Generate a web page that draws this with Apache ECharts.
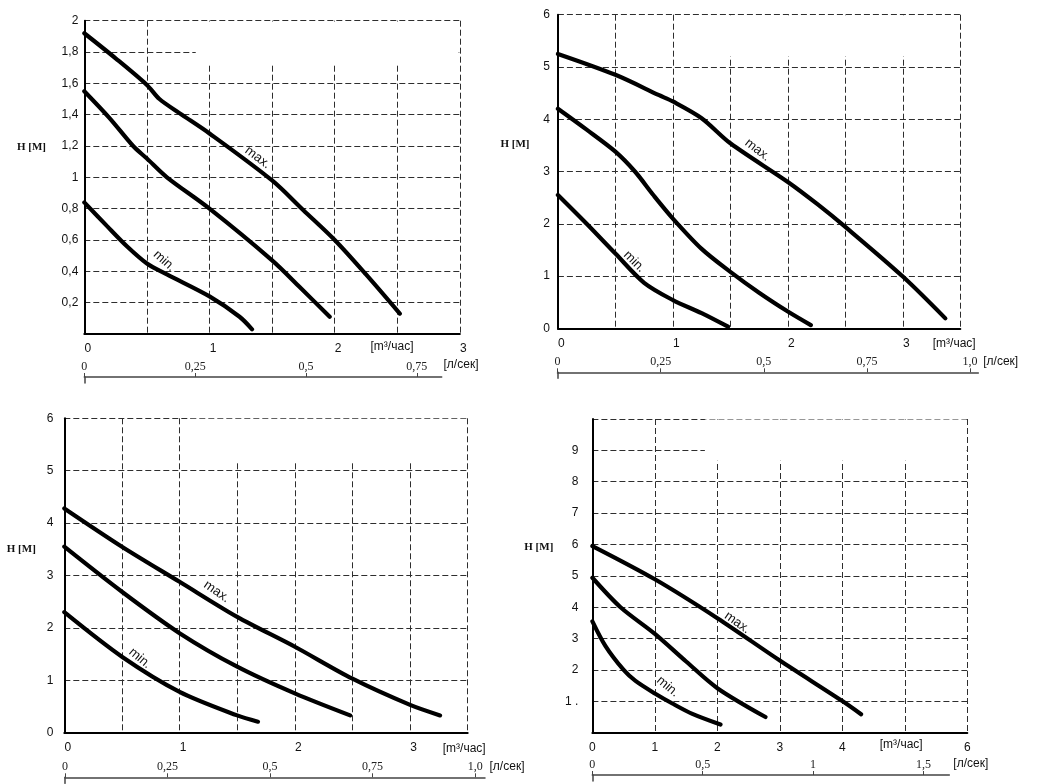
<!DOCTYPE html>
<html>
<head>
<meta charset="utf-8">
<script src="https://cdn.jsdelivr.net/npm/echarts@6/dist/echarts.min.js"></script>
<style>
html,body{margin:0;padding:0;background:#fff;}
#chart{width:1042px;height:784px;}
</style>
</head>
<body>
<div id="chart"></div>
<script>
// ---------- DATA ----------
// Flow Q [m3/h] vs head H [m]
const curve2M_max = [[0,1.92],[0.25,1.76],[0.5,1.59],[0.6,1.5],[0.76,1.41],[1,1.28],[1.5,0.98],[1.75,0.79],[2,0.6],[2.25,0.38],[2.52,0.13]];
const curve2M_mid = [[0,1.55],[0.2,1.38],[0.39,1.2],[0.5,1.12],[0.66,1.0],[1,0.8],[1.5,0.47],[1.72,0.3],[1.96,0.11]];
const curve2M_min = [[0,0.84],[0.18,0.69],[0.34,0.56],[0.5,0.45],[0.66,0.38],[1,0.24],[1.24,0.11],[1.34,0.03]];

const curve5M_max = [[0,5.25],[0.5,4.85],[0.88,4.46],[1,4.34],[1.25,4.02],[1.5,3.54],[2,2.8],[2.26,2.37],[2.5,1.94],[3,0.99],[3.37,0.19]];
const curve5M_mid = [[0,4.2],[0.25,3.8],[0.5,3.38],[0.67,3.0],[0.83,2.55],[1,2.1],[1.25,1.52],[1.5,1.08],[1.75,0.68],[2,0.32],[2.2,0.06]];
const curve5M_min = [[0,2.55],[0.25,2.0],[0.5,1.43],[0.75,0.87],[1,0.54],[1.25,0.29],[1.48,0.03]];

const curve4M_max = [[0,4.28],[0.5,3.55],[1,2.88],[1.5,2.21],[2,1.64],[2.5,1.03],[3,0.53],[3.26,0.33]];
const curve4M_mid = [[0,3.55],[0.5,2.69],[1,1.9],[1.5,1.26],[2,0.75],[2.48,0.33]];
const curve4M_min = [[0,2.3],[0.5,1.45],[1,0.78],[1.5,0.33],[1.68,0.21]];

const curve6M_max = [[0,5.95],[1,4.89],[2,3.65],[3,2.3],[4,1.01],[4.3,0.59]];
const curve6M_mid = [[0,4.94],[0.45,4.0],[1,3.15],[1.5,2.27],[2,1.42],[2.77,0.5]];
const curve6M_min = [[0,3.55],[0.21,2.76],[0.5,2.0],[0.69,1.65],[1,1.25],[1.28,0.93],[1.6,0.6],[2.05,0.26]];

// tick labels
const xLabels2M = ['0','','1','','2','','3'];
const xLabels45M = ['0','','1','','2','','3',''];
const xLabels6M = ['0','1','2','3','4','','6'];
const yLabels2M = ['','0,2','0,4','0,6','0,8','1','1,2','1,4','1,6','1,8','2'];
const yLabels6 = ['0','1','2','3','4','5','6'];
const yLabels6M = ['','1 .','2','3','4','5','6','7','8','9',''];
// secondary flow axis [л/сек]
const lpsTicks2M = [0,0.25,0.5,0.75];
const lpsLabels2M = ['0','0,25','0,5','0,75'];
const lpsTicks45M = [0,0.25,0.5,0.75,1];
const lpsLabels45M = ['0','0,25','0,5','0,75','1,0'];
const lpsTicks6M = [0,0.5,1,1.5];
const lpsLabels6M = ['0','0,5','1','1,5'];

// ---------- CHART ----------
const chart = echarts.init(document.getElementById('chart'), null, {renderer:'canvas'});
const SANS = '"Liberation Sans", Arial, sans-serif';
const SERIF = '"Liberation Serif", "Times New Roman", serif';
const gridLine = {show:true, lineStyle:{color:'#2e2e2e', width:1, type:[6,3]}};

function xAxisMain(i, max, interval, labels, shift){
  return {type:'value', gridIndex:i, min:0, max:max, interval:interval,
    axisLine:{show:true, onZero:false, lineStyle:{color:'#000', width:2}},
    axisTick:{show:false}, splitLine:gridLine,
    axisLabel:{margin:9, fontSize:12, color:'#111', fontFamily:SANS, padding:[0,0,0,shift],
      formatter:(v,idx)=> labels[idx] !== undefined ? labels[idx] : ''}};
}
function yAxisMain(i, max, interval, labels, margin){
  return {type:'value', gridIndex:i, min:0, max:max, interval:interval,
    axisLine:{show:true, onZero:false, lineStyle:{color:'#000', width:2}},
    axisTick:{show:false}, splitLine:gridLine,
    axisLabel:{margin:margin, fontSize:12, color:'#111', fontFamily:SANS,
      formatter:(v,idx)=> labels[idx] !== undefined ? labels[idx] : ''}};
}
function xAxisLps(i, max, ticks, labels){
  return {type:'value', gridIndex:i, position:'top', min:0, max:max,
    axisLine:{show:true, onZero:false, lineStyle:{color:'#444', width:1.5}},
    axisTick:{show:true, customValues:ticks, length:4, lineStyle:{color:'#444', width:1}},
    splitLine:{show:false},
    axisLabel:{customValues:ticks, margin:4, fontSize:12, color:'#222', fontFamily:SERIF,
      formatter:(v)=>{ const k = ticks.findIndex(t=>Math.abs(t-v)<1e-6); return k>=0 ? labels[k] : ''; }}};
}
function yAxisLps(i){
  return {type:'value', gridIndex:i, min:0, max:1, axisLine:{show:true, onZero:false, lineStyle:{color:'#444', width:1.5}},
    axisTick:{show:false}, axisLabel:{show:false}, splitLine:{show:false}};
}
function curve(i, data, mask){
  const s = {type:'line', xAxisIndex:i, yAxisIndex:i, data:data, smooth:0.3, symbol:'none',
    lineStyle:{color:'#000', width:4.2, cap:'round'}, silent:true, z:5};
  if(mask){
    s.markArea = {silent:true, itemStyle:{color:'#fff', opacity:1}, label:{show:false},
      data:[[{coord:mask[0]},{coord:mask[1]}]]};
  }
  return s;
}
function txt(x, y, text, font, rot){
  return {type:'text', x:x, y:y, rotation:rot||0, silent:true,
    style:{text:text, font:font, fill:'#111', align:'center', verticalAlign:'middle'}};
}

const fNO = 'bold 17px ' + SERIF;
const fV = '13px ' + SERIF;
const fM = '20px "DejaVu Sans", sans-serif';
const fH = 'bold 11px ' + SERIF;
const fU = '12px ' + SANS;
const fC = '13px ' + SANS;
const deg = Math.PI/180;

const option = {
  backgroundColor:'#fff',
  animation:false,
  grid:[
    {left:84.3, top:20.7, width:375.6, height:313.3},
    {left:557.9, top:14.7, width:402.4, height:313.6},
    {left:64.3, top:418.3, width:403.4, height:314.4},
    {left:592.4, top:419, width:374.9, height:313.7},
    {left:84.3, top:377, width:357.4, height:6},
    {left:557.5, top:372.3, width:420.8, height:6},
    {left:65, top:777.3, width:420, height:6},
    {left:592.3, top:775, width:357, height:6}
  ],
  xAxis:[
    xAxisMain(0, 3, 0.5, xLabels2M, 7),
    xAxisMain(1, 3.5, 0.5, xLabels45M, 7),
    xAxisMain(2, 3.5, 0.5, xLabels45M, 7),
    xAxisMain(3, 6, 1, xLabels6M, 0),
    xAxisLps(4, 0.806, lpsTicks2M, lpsLabels2M),
    xAxisLps(5, 1.02, lpsTicks45M, lpsLabels45M),
    xAxisLps(6, 1.024, lpsTicks45M, lpsLabels45M),
    xAxisLps(7, 1.617, lpsTicks6M, lpsLabels6M)
  ],
  yAxis:[
    yAxisMain(0, 2, 0.2, yLabels2M, 6),
    yAxisMain(1, 6, 1, yLabels6, 8),
    yAxisMain(2, 6, 1, yLabels6, 11),
    yAxisMain(3, 10, 1, yLabels6M, 14),
    yAxisLps(4), yAxisLps(5), yAxisLps(6), yAxisLps(7)
  ],
  series:[
    curve(0, curve2M_max, [[0.89,1.73],[2.99,1.995]]),
    curve(0, curve2M_mid), curve(0, curve2M_min),
    curve(1, curve5M_max, [[1.1,5.2],[3.49,5.99]]),
    curve(1, curve5M_mid), curve(1, curve5M_min),
    curve(2, curve4M_max, [[1.1,5.17],[3.49,5.99]]),
    curve(2, curve4M_mid), curve(2, curve4M_min),
    curve(3, curve6M_max, [[1.8,8.67],[5.99,9.985]]),
    curve(3, curve6M_mid), curve(3, curve6M_min)
  ],
  graphic:[
    // panel 2M
    txt(245, 43.3, 'NO', fNO), txt(311.7, 43.3, '1~230 V', fV), txt(401.7, 43.3, '2M', fM),
    txt(31.5, 147, 'H [M]', fH),
    txt(392, 347, '[m³/час]', fU), txt(461, 364.5, '[л/сек]', fU),
    txt(257.7, 157.7, 'max.', fC, -37*deg), txt(164.3, 261, 'min.', fC, -42*deg),
    // panel 5M
    txt(732.2, 39.3, 'NO', fNO), txt(798, 39.3, '1~230 V', fV), txt(890.6, 39.3, '5M', fM),
    txt(515, 144, 'H [M]', fH),
    txt(954.2, 343.3, '[m³/час]', fU), txt(1000.7, 361.7, '[л/сек]', fU),
    txt(757.5, 150, 'max.', fC, -38*deg), txt(634.3, 261.7, 'min.', fC, -45*deg),
    // panel 4M
    txt(239, 442.7, 'NO', fNO), txt(304, 442.7, '1~230 V', fV), txt(396.7, 442.7, '4M', fM),
    txt(21.3, 549.3, 'H [M]', fH),
    txt(464.2, 748.3, '[m³/час]', fU), txt(507, 766.7, '[л/сек]', fU),
    txt(216.7, 591.7, 'max.', fC, -35*deg), txt(140, 658.3, 'min.', fC, -40*deg),
    // panel 6M
    txt(752.6, 440.7, 'NO', fNO), txt(817.7, 440.7, '1~230 V', fV), txt(910.3, 440.7, '6M', fM),
    txt(538.8, 546.7, 'H [M]', fH),
    txt(901.2, 745, '[m³/час]', fU), txt(970.8, 763.3, '[л/сек]', fU),
    txt(737.3, 622.7, 'max.', fC, -35*deg), txt(667.8, 686.7, 'min.', fC, -40*deg)
  ]
};
chart.setOption(option);
</script>
</body>
</html>
